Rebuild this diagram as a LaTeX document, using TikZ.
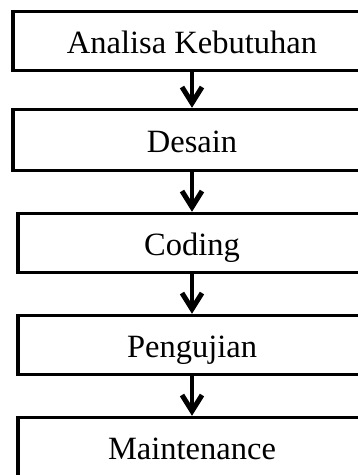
\documentclass[tikz,border=0pt]{standalone}
\usepackage{fontspec}
\setmainfont{Liberation Serif}
\usetikzlibrary{arrows.meta}
\begin{document}
\begin{tikzpicture}[x=1pt,y=-1pt,
  stage/.style={draw=black, line width=3.5pt, rectangle, inner sep=0pt,
    minimum height=59pt, text height=25pt, text depth=0pt,
    font=\fontsize{32.5pt}{36pt}\selectfont},
  flow/.style={line width=4pt, -{Straight Barb[length=16pt,width=20pt,line width=5pt]}}]
  \useasboundingbox (0,0) rectangle (358,475);
  \clip (0,0) rectangle (358,475);
  % the boxes run on past the right edge of the page
  \node[stage, minimum width=358pt] (analisa) at (192,41) {Analisa Kebutuhan};
  \node[stage, minimum width=358pt, minimum height=61pt] (desain) at (192,140) {Desain};
  \node[stage, minimum width=348pt] (coding) at (192,243) {Coding};
  \node[stage, minimum width=348pt] (uji) at (192,345) {Pengujian};
  \node[stage, minimum width=348pt] (maint) at (192,447) {Maintenance};
  \draw[flow] (analisa.south) -- (desain.north);
  \draw[flow] (desain.south) -- (coding.north);
  \draw[flow] (coding.south) -- (uji.north);
  \draw[flow] (uji.south) -- (maint.north);
\end{tikzpicture}
\end{document}
